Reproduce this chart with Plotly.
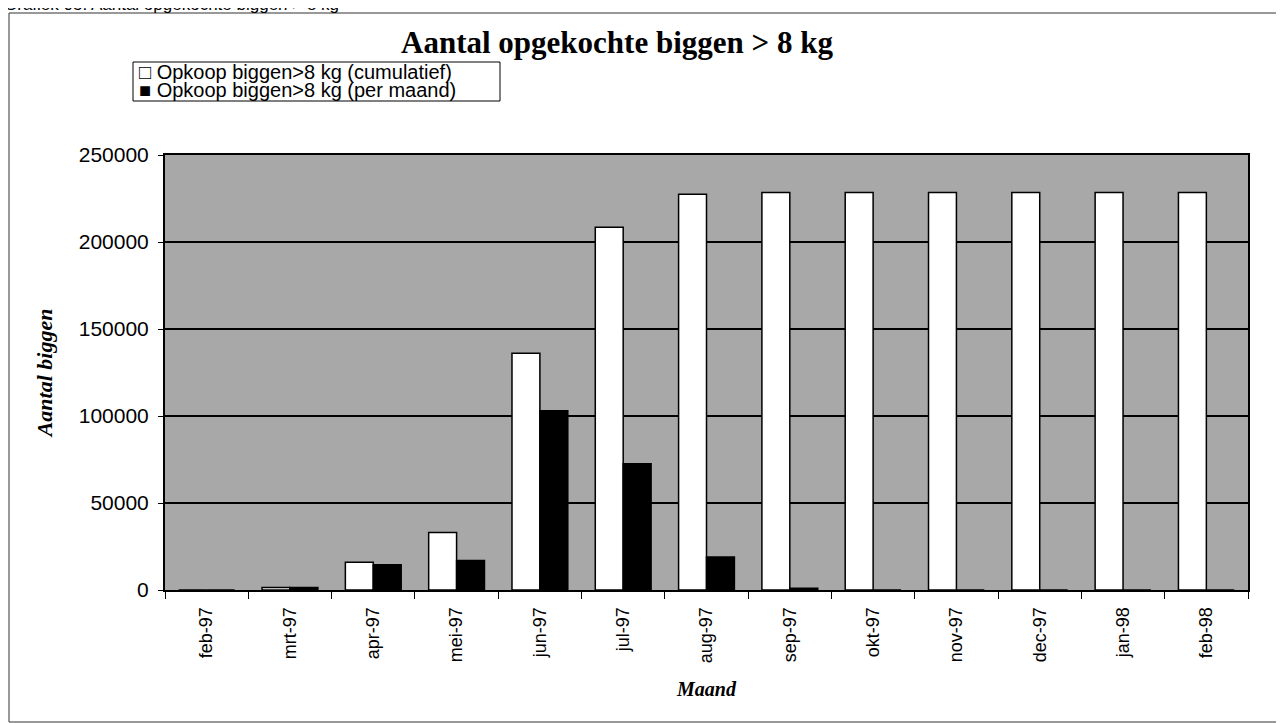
import plotly.graph_objects as go

# Data
maanden = ["feb-97", "mrt-97", "apr-97", "mei-97", "jun-97", "jul-97", "aug-97",
           "sep-97", "okt-97", "nov-97", "dec-97", "jan-98", "feb-98"]
cumulatief = [0, 1500, 16000, 33000, 136000, 208500, 227500,
              228500, 228500, 228500, 228500, 228500, 228500]
per_maand = [0, 1500, 14500, 17000, 103000, 72500, 19000,
             1000, 0, 0, 0, 0, 0]
y_ticks = [0, 50000, 100000, 150000, 200000, 250000]
legend_labels = ["Opkoop biggen>8 kg (cumulatief)", "Opkoop biggen>8 kg (per maand)"]

# page body adds 8px margin, so work in page pixels and shift
OFF = 8
W, H = 1284 - OFF, 723 - OFF
# plot area in page pixels: x 165..1248, y 155..590
L, T = 165 - OFF, 155 - OFF
R, B = W - (1248 - OFF), H - (590 - OFF)
pw, ph = W - L - R, H - T - B


def px_x(x):
    return (x - OFF - L) / pw


def px_y(y):
    return 1 - (y - OFF - T) / ph


fig = go.Figure()

fig.add_trace(go.Bar(
    x=maanden, y=cumulatief,
    name=legend_labels[0],
    marker=dict(color="white", line=dict(color="black", width=1.5)),
))
fig.add_trace(go.Bar(
    x=maanden, y=per_maand,
    name=legend_labels[1],
    marker=dict(color="black", line=dict(color="black", width=1.5)),
))

fig.update_layout(
    width=W, height=H,
    margin=dict(l=L, r=R, t=T, b=B, autoexpand=False),
    paper_bgcolor="white",
    plot_bgcolor="#a8a8a8",
    barmode="group",
    bargap=0.33,
    bargroupgap=0,
    showlegend=False,
    font=dict(family="Liberation Sans, Arial, sans-serif", color="black", size=18),
    title=dict(
        text="<b>Aantal opgekochte biggen > 8 kg</b>",
        font=dict(family="Liberation Serif, Times New Roman, serif", size=31, color="black"),
        x=px_x(617), xanchor="center", xref="paper",
        y=1 - (42 - OFF) / H, yanchor="middle", yref="container",
    ),
    xaxis=dict(
        type="category",
        tickangle=-90,
        tickfont=dict(size=18),
        ticks="outside", ticklen=7, tickcolor="black", tickwidth=1,
        ticklabelstandoff=8,
        tickson="boundaries",
        showgrid=False,
        showline=True, linecolor="black", linewidth=2, mirror=True,
        title=dict(
            text="<b><i>Maand</i></b>",
            font=dict(family="Liberation Serif, Times New Roman, serif", size=20),
            standoff=20,
        ),
    ),
    yaxis=dict(
        range=[0, 250000],
        tickvals=y_ticks,
        ticktext=[str(v) for v in y_ticks],
        tickfont=dict(size=21),
        ticks="outside", ticklen=5, tickcolor="black",
        ticklabelstandoff=5,
        showgrid=True, gridcolor="black", gridwidth=2,
        zeroline=False,
        showline=True, linecolor="black", linewidth=2, mirror=True,
        title=dict(
            text="<b><i>Aantal biggen</i></b>",
            font=dict(family="Liberation Serif, Times New Roman, serif", size=22),
            standoff=20,
        ),
    ),
)

# outer frame of the chart object
fig.add_shape(
    type="rect", xref="paper", yref="paper",
    x0=px_x(9), x1=px_x(1283), y0=px_y(722), y1=px_y(13),
    line=dict(color="#333333", width=1), fillcolor="rgba(0,0,0,0)", layer="below",
)

# legend box drawn like the original (tight line spacing)
fig.add_shape(
    type="rect", xref="paper", yref="paper",
    x0=px_x(133), x1=px_x(500), y0=px_y(101), y1=px_y(62),
    line=dict(color="black", width=1), fillcolor="white",
)
for i, (sym, lab) in enumerate(zip(["□", "■"], legend_labels)):
    fig.add_annotation(
        text=sym + " " + lab,
        xref="paper", yref="paper",
        x=px_x(137), xanchor="left",
        y=px_y(72 + 18 * i), yanchor="middle",
        showarrow=False,
        font=dict(size=20, color="black"),
    )

# caption above the chart, cut off by the page edge
fig.add_annotation(
    text="Grafiek 05: Aantal opgekochte biggen > 8 kg",
    xref="paper", yref="paper",
    x=px_x(2), xanchor="left",
    y=px_y(4), yanchor="middle",
    showarrow=False,
    font=dict(size=17, color="black"),
)

fig.write_html("out.html")
